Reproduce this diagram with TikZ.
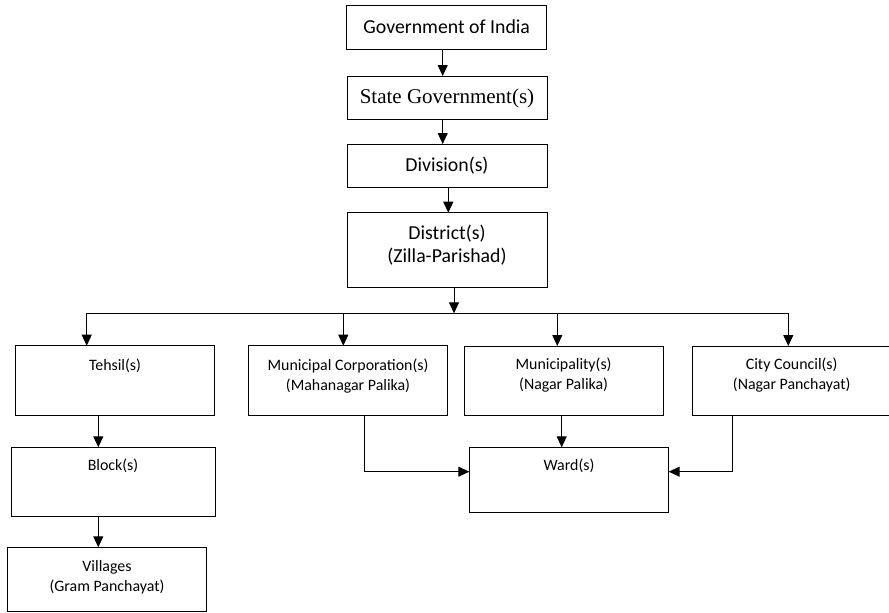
\documentclass[tikz,border=0pt]{standalone}
\usepackage{fontspec}
\setmainfont{Carlito}
\newfontfamily\timesf{Liberation Serif}
\usetikzlibrary{arrows.meta}
\begin{document}
\begin{tikzpicture}[x=1pt,y=-1pt,
  box/.style={draw=black,line width=1pt,rectangle,inner sep=0pt,outer sep=0pt,anchor=north west},
  big/.style={font=\fontsize{19.8}{23.4}\selectfont,align=center,inner sep=0pt},
  small/.style={font=\fontsize{15.9}{20}\selectfont,align=center,inner sep=0pt},
  conn/.style={line width=1pt,draw=black},
  arr/.style={conn,-{Triangle[length=11pt,width=10pt]}}]
\clip (0,0) rectangle (889,613);
% top chain
\node[box,minimum width=200pt,minimum height=44pt] (gov) at (346.7,5) {};
\node[big] (govt) at (gov.center) {Government of India};
\node[box,minimum width=200pt,minimum height=43pt] (state) at (347,76) {};
\node[big,font=\timesf\fontsize{21}{25}\selectfont] (statet) at ([yshift=-1pt]state.center) {State Government(s)};
\node[box,minimum width=200pt,minimum height=43pt] (div) at (347,144) {};
\node[big] (divt) at (div.center) {Division(s)};
\node[box,minimum width=200pt,minimum height=74.3pt] (dist) at (347,212.7) {};
\node[big] (distt) at ([yshift=5pt]dist.center) {District(s)\\(Zilla-Parishad)};
% second row
\node[box,minimum width=198.6pt,minimum height=69.6pt] (teh) at (15.7,345.7) {};
\node[small,anchor=center] (teht) at (115,366) {Tehsil(s)};
\node[box,minimum width=199pt,minimum height=69.6pt] (mc) at (248.7,345.7) {};
\node[small] (mct) at (348,376) {Municipal Corporation(s)\\(Mahanagar Palika)};
\node[box,minimum width=199.3pt,minimum height=69.3pt] (mun) at (464,346) {};
\node[small] (munt) at (563.6,375) {Municipality(s)\\(Nagar Palika)};
\node[box,minimum width=198.7pt,minimum height=69.3pt] (cc) at (692.3,346) {};
\node[small] (cct) at (791.7,375) {City Council(s)\\(Nagar Panchayat)};
% lower left
\node[box,minimum width=204pt,minimum height=69.4pt] (blk) at (11,447.3) {};
\node[small] (blkt) at (113,466) {Block(s)};
\node[box,minimum width=199.4pt,minimum height=64.2pt] (vil) at (7.3,547.3) {};
\node[small] (vilt) at (107,577) {Villages\\(Gram Panchayat)};
% ward
\node[box,minimum width=199.4pt,minimum height=65.4pt] (ward) at (469.3,447.3) {};
\node[small] (wardt) at (569,466) {Ward(s)};
% coordinates
\coordinate (c1) at (442.7,0);
\coordinate (c2) at (448.3,0);
\coordinate (bus) at (454,313.3);
\coordinate (bL) at (86.7,313.3);
\coordinate (bMC) at (343.3,313.3);
\coordinate (bMU) at (557.3,313.3);
\coordinate (bR) at (788.3,313.3);
\coordinate (tb) at (98.3,0);
\coordinate (mcd) at (364.3,471.7);
\coordinate (mud) at (561.7,0);
\coordinate (ccd) at (732.7,471.7);
% connectors
\draw[arr] (gov.south -| c1) -- (state.north -| c1);
\draw[arr] (state.south -| c1) -- (div.north -| c1);
\draw[arr] (div.south -| c2) -- (dist.north -| c2);
\draw[arr] (dist.south -| bus) -- (bus);
\draw[conn] (bL) -- (bR);
\draw[arr] (bL) -- (bL |- teh.north);
\draw[arr] (bMC) -- (bMC |- mc.north);
\draw[arr] (bMU) -- (bMU |- mun.north);
\draw[arr] (bR) -- (bR |- cc.north);
\draw[arr] (teh.south -| tb) -- (blk.north -| tb);
\draw[arr] (blk.south -| tb) -- (vil.north -| tb);
\draw[arr] (mc.south -| mcd) -- (mcd) -- (ward.west |- mcd);
\draw[arr] (mun.south -| mud) -- (ward.north -| mud);
\draw[arr] (cc.south -| ccd) -- (ccd) -- (ward.east |- ccd);
\end{tikzpicture}
\end{document}
